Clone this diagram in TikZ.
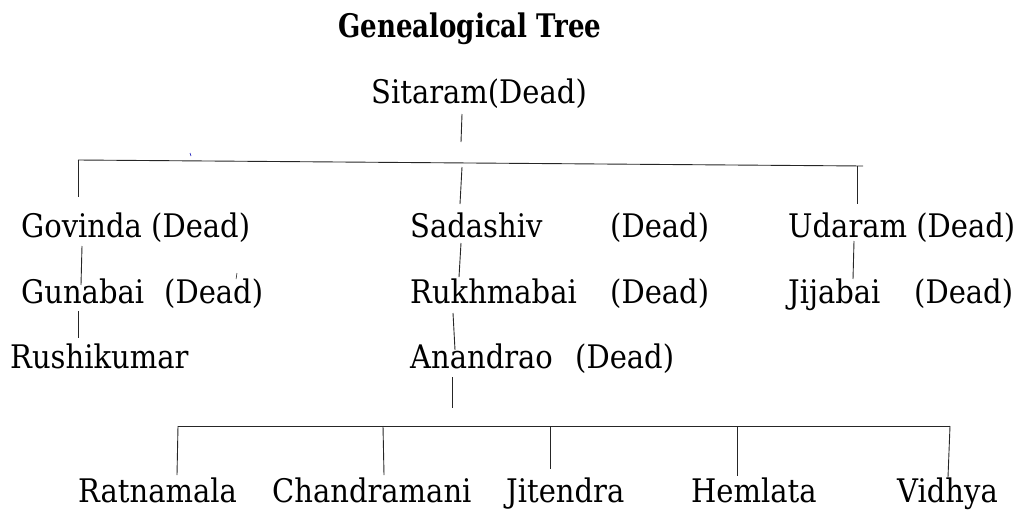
\documentclass[tikz,border=0pt]{standalone}
\usepackage{graphicx}
\usepackage{fontspec}
\setmainfont{DejaVu Serif}
\newcommand\vstr[1]{\scalebox{1}[1.12]{#1}}
\newcommand\tstr[1]{\scalebox{0.9}[1.12]{#1}}
\begin{document}
\begin{tikzpicture}[x=1pt,y=-1pt,
  lbl/.style={anchor=base west,inner sep=0pt,font=\fontsize{29}{32}\selectfont},
  ttl/.style={anchor=base west,inner sep=0pt,font=\bfseries\fontsize{29}{32}\selectfont},
  ln/.style={line width=0.9pt,black!85}]
\useasboundingbox (0,0) rectangle (1022,509);
\node[ttl] (title) at (338,37) {\tstr{Genealogical Tree}};
\node[lbl] (sitaram) at (371,103) {\vstr{Sitaram(Dead)}};
% row 2
\node[lbl] (govinda) at (21,237) {\vstr{Govinda (Dead)}};
\node[lbl] (sadashiv) at (410,237) {\vstr{Sadashiv}};
\node[lbl] (sadashivd) at (610,237) {\vstr{(Dead)}};
\node[lbl] (udaram) at (788,237) {\vstr{Udaram (Dead)}};
% row 3
\node[lbl] (gunabai) at (21,303) {\vstr{Gunabai}};
\node[lbl] (gunabaid) at (164,303) {\vstr{(Dead)}};
\node[lbl] (rukhmabai) at (410,303) {\vstr{Rukhmabai}};
\node[lbl] (rukhmabaid) at (610,303) {\vstr{(Dead)}};
\node[lbl] (jijabai) at (788,303) {\vstr{Jijabai}};
\node[lbl] (jijabaid) at (914,303) {\vstr{(Dead)}};
% row 4
\node[lbl] (rushikumar) at (10,368) {\vstr{Rushikumar}};
\node[lbl] (anandrao) at (410,368) {\vstr{Anandrao}};
\node[lbl] (anandraod) at (575,368) {\vstr{(Dead)}};
% bottom row
\node[lbl] (ratnamala) at (78,502) {\vstr{Ratnamala}};
\node[lbl] (chandramani) at (272,502) {\vstr{Chandramani}};
\node[lbl] (jitendra) at (506,502) {\vstr{Jitendra}};
\node[lbl] (hemlata) at (691,502) {\vstr{Hemlata}};
\node[lbl] (vidhya) at (897,502) {\vstr{Vidhya}};
% coordinates
\coordinate (s1) at (462,114); \coordinate (s2) at (461,142);
\coordinate (hl) at (78,160); \coordinate (hr) at (863,166);
\coordinate (g1) at (78,160); \coordinate (g2) at (78,197);
\coordinate (m1) at (462,167); \coordinate (m2) at (460,204);
\coordinate (u1) at (857,166); \coordinate (u2) at (857,204);
\coordinate (gg1) at (82,246); \coordinate (gg2) at (81,285);
\coordinate (gr1) at (78,311); \coordinate (gr2) at (78,338);
\coordinate (sr1) at (461,243); \coordinate (sr2) at (459,277);
\coordinate (ra1) at (453,313); \coordinate (ra2) at (455,350);
\coordinate (ab1) at (452,377); \coordinate (ab2) at (452,408);
\coordinate (uj1) at (854,241); \coordinate (uj2) at (853,279);
\coordinate (bl) at (178,426); \coordinate (br) at (950,426);
\coordinate (c1t) at (178,426); \coordinate (c1b) at (177,475);
\coordinate (c2t) at (383,426); \coordinate (c2b) at (384,475);
\coordinate (c3t) at (550,426); \coordinate (c3b) at (550,469);
\coordinate (c4t) at (737,426); \coordinate (c4b) at (737,476);
\coordinate (c5t) at (950,426); \coordinate (c5b) at (948,477);
\coordinate (t1) at (236,279); \coordinate (t2) at (237,273);
\coordinate (b1) at (190,153); \coordinate (b2) at (191,156);
\draw[ln] (s1) -- (s2);
\draw[ln] (hl) -- (hr);
\draw[ln] (g1) -- (g2);
\draw[ln] (m1) -- (m2);
\draw[ln] (u1) -- (u2);
\draw[ln] (gg1) -- (gg2);
\draw[ln] (gr1) -- (gr2);
\draw[ln] (sr1) -- (sr2);
\draw[ln] (ra1) -- (ra2);
\draw[ln] (ab1) -- (ab2);
\draw[ln] (uj1) -- (uj2);
\draw[ln] (bl) -- (br);
\draw[ln] (c1t) -- (c1b);
\draw[ln] (c2t) -- (c2b);
\draw[ln] (c3t) -- (c3b);
\draw[ln] (c4t) -- (c4b);
\draw[ln] (c5t) -- (c5b);
\draw[line width=0.5pt] (t1) -- (t2);
\draw[line width=0.6pt,blue!70!black] (b1) -- (b2);
\end{tikzpicture}
\end{document}
